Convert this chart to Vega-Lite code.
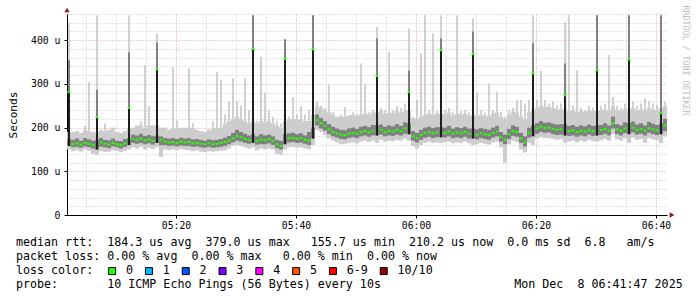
{
  "$schema": "https://vega.github.io/schema/vega-lite/v6.json",
  "width": 600,
  "height": 201,
  "autosize": {"type": "none"},
  "padding": {"left": 67, "top": 14, "right": 30, "bottom": 82},
  "background": "#ffffff",
  "config": {"view": {"stroke": null}, "font": "DejaVu Sans Mono"},
  "title": {
    "text": [
      "median\u00a0rtt:\u00a0\u00a0184.3\u00a0us\u00a0avg\u00a0\u00a0379.0\u00a0us\u00a0max\u00a0\u00a0\u00a0155.7\u00a0us\u00a0min\u00a0\u00a0210.2\u00a0us\u00a0now\u00a0\u00a00.0\u00a0ms\u00a0sd\u00a0\u00a06.8\u00a0\u00a0\u00a0am/s",
      "packet\u00a0loss:\u00a00.00\u00a0%\u00a0avg\u00a0\u00a00.00\u00a0%\u00a0max\u00a0\u00a0\u00a00.00\u00a0%\u00a0min\u00a0\u00a00.00\u00a0%\u00a0now",
      "loss\u00a0color:",
      "probe:\u00a0\u00a0\u00a0\u00a0\u00a0\u00a0\u00a010\u00a0ICMP\u00a0Echo\u00a0Pings\u00a0(56\u00a0Bytes)\u00a0every\u00a010s\u00a0\u00a0\u00a0\u00a0\u00a0\u00a0\u00a0\u00a0\u00a0\u00a0\u00a0\u00a0\u00a0\u00a0\u00a0\u00a0\u00a0\u00a0\u00a0Mon\u00a0Dec\u00a0\u00a08\u00a006:41:47\u00a02025"
    ],
    "orient": "bottom",
    "anchor": "start",
    "frame": "group",
    "dx": -51,
    "dy": -46,
    "offset": 6,
    "font": "DejaVu Sans Mono",
    "fontSize": 11.66,
    "fontWeight": "normal",
    "color": "#000000",
    "lineHeight": 13.9,
    "baseline": "top"
  },
  "data": {
    "format": {"parse": {"t": "utc:'%H:%M:%S'"}},
    "values": [
      {"t":"05:02:10","lo":150,"hi":190,"pk":440,"dlo":158,"dhi":175,"med":281,"dpk":354},
      {"t":"05:02:50","lo":146,"hi":190,"pk":190,"dlo":155,"dhi":172,"med":162},
      {"t":"05:03:30","lo":148,"hi":192,"pk":192,"dlo":156,"dhi":175,"med":164},
      {"t":"05:04:10","lo":145,"hi":188,"pk":188,"dlo":154,"dhi":170,"med":161},
      {"t":"05:04:50","lo":150,"hi":195,"pk":205,"dlo":157,"dhi":176,"med":165},
      {"t":"05:05:30","lo":147,"hi":192,"pk":304,"dlo":155,"dhi":173,"med":163},
      {"t":"05:06:10","lo":140,"hi":190,"pk":190,"dlo":152,"dhi":170,"med":160},
      {"t":"05:06:50","lo":138,"hi":190,"pk":457,"dlo":150,"dhi":172,"med":224,"dpk":286},
      {"t":"05:07:30","lo":146,"hi":195,"pk":195,"dlo":156,"dhi":176,"med":166},
      {"t":"05:08:10","lo":144,"hi":192,"pk":210,"dlo":155,"dhi":172,"med":163},
      {"t":"05:08:50","lo":145,"hi":195,"pk":195,"dlo":153,"dhi":171,"med":161},
      {"t":"05:09:30","lo":148,"hi":200,"pk":200,"dlo":157,"dhi":175,"med":165},
      {"t":"05:10:10","lo":146,"hi":190,"pk":190,"dlo":155,"dhi":170,"med":162},
      {"t":"05:10:50","lo":144,"hi":188,"pk":188,"dlo":152,"dhi":169,"med":160},
      {"t":"05:11:30","lo":147,"hi":192,"pk":192,"dlo":156,"dhi":174,"med":164},
      {"t":"05:12:10","lo":150,"hi":198,"pk":457,"dlo":160,"dhi":176,"med":245,"dpk":372},
      {"t":"05:12:50","lo":155,"hi":200,"pk":200,"dlo":165,"dhi":184,"med":174},
      {"t":"05:13:30","lo":152,"hi":205,"pk":205,"dlo":163,"dhi":182,"med":172},
      {"t":"05:14:10","lo":156,"hi":205,"pk":215,"dlo":165,"dhi":186,"med":175},
      {"t":"05:14:50","lo":150,"hi":200,"pk":343,"dlo":162,"dhi":181,"med":171},
      {"t":"05:15:30","lo":154,"hi":205,"pk":250,"dlo":164,"dhi":183,"med":173},
      {"t":"05:16:10","lo":151,"hi":205,"pk":205,"dlo":161,"dhi":180,"med":170},
      {"t":"05:16:50","lo":155,"hi":205,"pk":416,"dlo":165,"dhi":182,"med":333,"dpk":395},
      {"t":"05:17:30","lo":133,"hi":200,"pk":200,"dlo":160,"dhi":180,"med":172},
      {"t":"05:18:10","lo":150,"hi":200,"pk":200,"dlo":160,"dhi":176,"med":168},
      {"t":"05:18:50","lo":148,"hi":195,"pk":195,"dlo":158,"dhi":175,"med":166},
      {"t":"05:19:30","lo":150,"hi":198,"pk":338,"dlo":159,"dhi":176,"med":167},
      {"t":"05:20:10","lo":148,"hi":200,"pk":215,"dlo":157,"dhi":174,"med":165},
      {"t":"05:20:50","lo":151,"hi":198,"pk":198,"dlo":159,"dhi":177,"med":168},
      {"t":"05:21:30","lo":149,"hi":200,"pk":200,"dlo":158,"dhi":175,"med":166},
      {"t":"05:22:10","lo":148,"hi":198,"pk":336,"dlo":158,"dhi":176,"med":167},
      {"t":"05:22:50","lo":146,"hi":200,"pk":210,"dlo":156,"dhi":173,"med":164},
      {"t":"05:23:30","lo":148,"hi":195,"pk":195,"dlo":157,"dhi":174,"med":165},
      {"t":"05:24:10","lo":145,"hi":192,"pk":192,"dlo":155,"dhi":172,"med":163},
      {"t":"05:24:50","lo":144,"hi":190,"pk":190,"dlo":154,"dhi":170,"med":162},
      {"t":"05:25:30","lo":146,"hi":195,"pk":195,"dlo":156,"dhi":173,"med":164},
      {"t":"05:26:10","lo":145,"hi":200,"pk":215,"dlo":154,"dhi":171,"med":162},
      {"t":"05:26:50","lo":146,"hi":198,"pk":328,"dlo":155,"dhi":172,"med":163},
      {"t":"05:27:30","lo":147,"hi":200,"pk":309,"dlo":156,"dhi":174,"med":165},
      {"t":"05:28:10","lo":148,"hi":210,"pk":230,"dlo":158,"dhi":177,"med":167},
      {"t":"05:28:50","lo":152,"hi":215,"pk":260,"dlo":162,"dhi":181,"med":170},
      {"t":"05:29:30","lo":158,"hi":220,"pk":313,"dlo":166,"dhi":188,"med":176},
      {"t":"05:30:10","lo":160,"hi":225,"pk":260,"dlo":170,"dhi":195,"med":181},
      {"t":"05:30:50","lo":158,"hi":220,"pk":250,"dlo":168,"dhi":190,"med":178},
      {"t":"05:31:30","lo":155,"hi":215,"pk":313,"dlo":165,"dhi":186,"med":174},
      {"t":"05:32:10","lo":152,"hi":210,"pk":240,"dlo":163,"dhi":182,"med":172},
      {"t":"05:32:50","lo":155,"hi":215,"pk":457,"dlo":165,"dhi":185,"med":380,"dpk":457},
      {"t":"05:33:30","lo":148,"hi":210,"pk":215,"dlo":161,"dhi":180,"med":170},
      {"t":"05:34:10","lo":152,"hi":215,"pk":362,"dlo":162,"dhi":185,"med":173},
      {"t":"05:34:50","lo":150,"hi":212,"pk":280,"dlo":162,"dhi":182,"med":171},
      {"t":"05:35:30","lo":152,"hi":215,"pk":240,"dlo":164,"dhi":184,"med":174},
      {"t":"05:36:10","lo":150,"hi":210,"pk":225,"dlo":160,"dhi":180,"med":170},
      {"t":"05:36:50","lo":140,"hi":205,"pk":215,"dlo":153,"dhi":172,"med":162},
      {"t":"05:37:30","lo":138,"hi":200,"pk":210,"dlo":150,"dhi":170,"med":158},
      {"t":"05:38:10","lo":150,"hi":215,"pk":402,"dlo":162,"dhi":185,"med":357,"dpk":402},
      {"t":"05:38:50","lo":155,"hi":220,"pk":225,"dlo":166,"dhi":187,"med":176},
      {"t":"05:39:30","lo":156,"hi":220,"pk":270,"dlo":167,"dhi":188,"med":177},
      {"t":"05:40:10","lo":154,"hi":218,"pk":230,"dlo":165,"dhi":185,"med":174},
      {"t":"05:40:50","lo":155,"hi":220,"pk":250,"dlo":166,"dhi":187,"med":176},
      {"t":"05:41:30","lo":152,"hi":215,"pk":230,"dlo":163,"dhi":182,"med":172},
      {"t":"05:42:10","lo":150,"hi":215,"pk":240,"dlo":160,"dhi":190,"med":170},
      {"t":"05:42:50","lo":160,"hi":230,"pk":457,"dlo":175,"dhi":200,"med":379,"dpk":457},
      {"t":"05:43:30","lo":195,"hi":250,"pk":260,"dlo":205,"dhi":230,"med":217},
      {"t":"05:44:10","lo":190,"hi":245,"pk":250,"dlo":198,"dhi":222,"med":210},
      {"t":"05:44:50","lo":183,"hi":240,"pk":245,"dlo":193,"dhi":215,"med":204},
      {"t":"05:45:30","lo":175,"hi":235,"pk":297,"dlo":185,"dhi":208,"med":196},
      {"t":"05:46:10","lo":170,"hi":230,"pk":235,"dlo":180,"dhi":202,"med":190},
      {"t":"05:46:50","lo":166,"hi":225,"pk":225,"dlo":177,"dhi":198,"med":187},
      {"t":"05:47:30","lo":162,"hi":225,"pk":230,"dlo":174,"dhi":195,"med":184},
      {"t":"05:48:10","lo":163,"hi":225,"pk":247,"dlo":173,"dhi":194,"med":183},
      {"t":"05:48:50","lo":165,"hi":228,"pk":228,"dlo":176,"dhi":198,"med":186},
      {"t":"05:49:30","lo":166,"hi":230,"pk":235,"dlo":178,"dhi":200,"med":188},
      {"t":"05:50:10","lo":164,"hi":228,"pk":232,"dlo":176,"dhi":197,"med":186},
      {"t":"05:50:50","lo":168,"hi":230,"pk":347,"dlo":180,"dhi":202,"med":190},
      {"t":"05:51:30","lo":170,"hi":232,"pk":300,"dlo":182,"dhi":204,"med":192},
      {"t":"05:52:10","lo":167,"hi":230,"pk":235,"dlo":179,"dhi":201,"med":189},
      {"t":"05:52:50","lo":170,"hi":235,"pk":240,"dlo":182,"dhi":206,"med":193},
      {"t":"05:53:30","lo":165,"hi":235,"pk":430,"dlo":182,"dhi":206,"med":318,"dpk":404},
      {"t":"05:54:10","lo":172,"hi":238,"pk":245,"dlo":184,"dhi":207,"med":195},
      {"t":"05:54:50","lo":168,"hi":232,"pk":240,"dlo":180,"dhi":202,"med":190},
      {"t":"05:55:30","lo":170,"hi":235,"pk":373,"dlo":182,"dhi":205,"med":193},
      {"t":"05:56:10","lo":169,"hi":233,"pk":240,"dlo":181,"dhi":203,"med":191},
      {"t":"05:56:50","lo":172,"hi":238,"pk":250,"dlo":184,"dhi":208,"med":195},
      {"t":"05:57:30","lo":170,"hi":235,"pk":245,"dlo":182,"dhi":204,"med":192},
      {"t":"05:58:10","lo":175,"hi":240,"pk":255,"dlo":186,"dhi":212,"med":198},
      {"t":"05:58:50","lo":170,"hi":238,"pk":427,"dlo":185,"dhi":210,"med":281,"dpk":330},
      {"t":"05:59:30","lo":158,"hi":222,"pk":225,"dlo":170,"dhi":192,"med":180},
      {"t":"06:00:10","lo":152,"hi":220,"pk":263,"dlo":166,"dhi":188,"med":176},
      {"t":"06:00:50","lo":160,"hi":225,"pk":370,"dlo":172,"dhi":195,"med":183},
      {"t":"06:01:30","lo":165,"hi":230,"pk":457,"dlo":177,"dhi":200,"med":188},
      {"t":"06:02:10","lo":168,"hi":232,"pk":240,"dlo":179,"dhi":202,"med":190},
      {"t":"06:02:50","lo":165,"hi":230,"pk":416,"dlo":176,"dhi":199,"med":187},
      {"t":"06:03:30","lo":166,"hi":232,"pk":238,"dlo":178,"dhi":201,"med":189},
      {"t":"06:04:10","lo":165,"hi":232,"pk":457,"dlo":178,"dhi":201,"med":377,"dpk":404},
      {"t":"06:04:50","lo":166,"hi":230,"pk":240,"dlo":177,"dhi":200,"med":188},
      {"t":"06:05:30","lo":168,"hi":235,"pk":245,"dlo":180,"dhi":204,"med":191},
      {"t":"06:06:10","lo":164,"hi":228,"pk":235,"dlo":176,"dhi":198,"med":186},
      {"t":"06:06:50","lo":166,"hi":232,"pk":457,"dlo":178,"dhi":201,"med":189},
      {"t":"06:07:30","lo":165,"hi":230,"pk":238,"dlo":176,"dhi":199,"med":187},
      {"t":"06:08:10","lo":168,"hi":232,"pk":240,"dlo":179,"dhi":202,"med":190},
      {"t":"06:08:50","lo":164,"hi":228,"pk":235,"dlo":175,"dhi":198,"med":186},
      {"t":"06:09:30","lo":160,"hi":228,"pk":450,"dlo":175,"dhi":198,"med":368,"dpk":420},
      {"t":"06:10:10","lo":162,"hi":228,"pk":279,"dlo":173,"dhi":196,"med":184},
      {"t":"06:10:50","lo":165,"hi":230,"pk":240,"dlo":176,"dhi":199,"med":187},
      {"t":"06:11:30","lo":163,"hi":228,"pk":235,"dlo":174,"dhi":197,"med":185},
      {"t":"06:12:10","lo":161,"hi":226,"pk":301,"dlo":172,"dhi":195,"med":183},
      {"t":"06:12:50","lo":166,"hi":232,"pk":240,"dlo":177,"dhi":200,"med":188},
      {"t":"06:13:30","lo":168,"hi":235,"pk":282,"dlo":180,"dhi":204,"med":191},
      {"t":"06:14:10","lo":155,"hi":225,"pk":235,"dlo":168,"dhi":190,"med":178},
      {"t":"06:14:50","lo":120,"hi":220,"pk":225,"dlo":162,"dhi":184,"med":172},
      {"t":"06:15:30","lo":162,"hi":230,"pk":240,"dlo":174,"dhi":197,"med":185},
      {"t":"06:16:10","lo":170,"hi":236,"pk":245,"dlo":181,"dhi":205,"med":192},
      {"t":"06:16:50","lo":167,"hi":235,"pk":263,"dlo":179,"dhi":202,"med":190},
      {"t":"06:17:30","lo":150,"hi":225,"pk":263,"dlo":165,"dhi":188,"med":175},
      {"t":"06:18:10","lo":143,"hi":220,"pk":255,"dlo":157,"dhi":180,"med":166},
      {"t":"06:18:50","lo":165,"hi":235,"pk":263,"dlo":177,"dhi":200,"med":188},
      {"t":"06:19:30","lo":160,"hi":240,"pk":457,"dlo":180,"dhi":205,"med":324,"dpk":393},
      {"t":"06:20:10","lo":175,"hi":245,"pk":263,"dlo":186,"dhi":210,"med":198},
      {"t":"06:20:50","lo":178,"hi":250,"pk":330,"dlo":190,"dhi":215,"med":202},
      {"t":"06:21:30","lo":176,"hi":248,"pk":263,"dlo":188,"dhi":211,"med":199},
      {"t":"06:22:10","lo":176,"hi":248,"pk":255,"dlo":189,"dhi":212,"med":200},
      {"t":"06:22:50","lo":174,"hi":245,"pk":260,"dlo":185,"dhi":209,"med":197},
      {"t":"06:23:30","lo":172,"hi":242,"pk":250,"dlo":183,"dhi":207,"med":195},
      {"t":"06:24:10","lo":173,"hi":242,"pk":255,"dlo":184,"dhi":208,"med":196},
      {"t":"06:24:50","lo":165,"hi":242,"pk":441,"dlo":182,"dhi":208,"med":274,"dpk":347},
      {"t":"06:25:30","lo":168,"hi":238,"pk":457,"dlo":181,"dhi":204,"med":192},
      {"t":"06:26:10","lo":170,"hi":240,"pk":250,"dlo":182,"dhi":206,"med":194},
      {"t":"06:26:50","lo":166,"hi":236,"pk":331,"dlo":179,"dhi":202,"med":190},
      {"t":"06:27:30","lo":170,"hi":238,"pk":245,"dlo":182,"dhi":205,"med":193},
      {"t":"06:28:10","lo":168,"hi":236,"pk":240,"dlo":180,"dhi":203,"med":191},
      {"t":"06:28:50","lo":172,"hi":240,"pk":250,"dlo":184,"dhi":207,"med":195},
      {"t":"06:29:30","lo":169,"hi":238,"pk":245,"dlo":181,"dhi":204,"med":192},
      {"t":"06:30:10","lo":168,"hi":238,"pk":457,"dlo":182,"dhi":205,"med":331,"dpk":457},
      {"t":"06:30:50","lo":171,"hi":240,"pk":250,"dlo":183,"dhi":206,"med":194},
      {"t":"06:31:30","lo":174,"hi":242,"pk":255,"dlo":186,"dhi":210,"med":197},
      {"t":"06:32:10","lo":170,"hi":238,"pk":366,"dlo":182,"dhi":205,"med":193},
      {"t":"06:32:50","lo":185,"hi":250,"pk":270,"dlo":198,"dhi":225,"med":210},
      {"t":"06:33:30","lo":173,"hi":240,"pk":250,"dlo":185,"dhi":208,"med":196},
      {"t":"06:34:10","lo":170,"hi":238,"pk":245,"dlo":182,"dhi":205,"med":193},
      {"t":"06:34:50","lo":175,"hi":242,"pk":255,"dlo":187,"dhi":212,"med":198},
      {"t":"06:35:30","lo":165,"hi":242,"pk":457,"dlo":185,"dhi":210,"med":356,"dpk":457},
      {"t":"06:36:10","lo":177,"hi":245,"pk":260,"dlo":189,"dhi":214,"med":200},
      {"t":"06:36:50","lo":172,"hi":240,"pk":250,"dlo":184,"dhi":207,"med":195},
      {"t":"06:37:30","lo":174,"hi":242,"pk":255,"dlo":186,"dhi":210,"med":197},
      {"t":"06:38:10","lo":165,"hi":238,"pk":267,"dlo":182,"dhi":205,"med":193},
      {"t":"06:38:50","lo":176,"hi":245,"pk":260,"dlo":188,"dhi":213,"med":199},
      {"t":"06:39:30","lo":173,"hi":242,"pk":255,"dlo":185,"dhi":209,"med":196},
      {"t":"06:40:10","lo":171,"hi":240,"pk":250,"dlo":183,"dhi":206,"med":194},
      {"t":"06:40:50","lo":165,"hi":245,"pk":457,"dlo":185,"dhi":210,"med":233,"dpk":457},
      {"t":"06:41:30","lo":180,"hi":250,"pk":260,"dlo":192,"dhi":220,"med":205}
    ]
  },
  "layer": [
    {
      "mark": {"type": "rule", "strokeWidth": 4, "color": "#cdcdcd"},
      "encoding": {
        "x": {
          "field": "t", "type": "temporal",
          "scale": {"type": "utc", "domain": [
            {"year": 1900, "month": 1, "date": 1, "hours": 5, "minutes": 1, "seconds": 50, "utc": true},
            {"year": 1900, "month": 1, "date": 1, "hours": 6, "minutes": 41, "seconds": 50, "utc": true}
          ]},
          "axis": {
            "orient": "bottom", "title": null, "labels": false, "ticks": false, "domain": false,
            "grid": true, "gridColor": "#c8c8c8", "gridDash": [1, 2], "gridOpacity": 1,
            "values": [
              {"year": 1900, "month": 1, "date": 1, "hours": 5, "minutes": 5, "utc": true},
              {"year": 1900, "month": 1, "date": 1, "hours": 5, "minutes": 10, "utc": true},
              {"year": 1900, "month": 1, "date": 1, "hours": 5, "minutes": 15, "utc": true},
              {"year": 1900, "month": 1, "date": 1, "hours": 5, "minutes": 25, "utc": true},
              {"year": 1900, "month": 1, "date": 1, "hours": 5, "minutes": 30, "utc": true},
              {"year": 1900, "month": 1, "date": 1, "hours": 5, "minutes": 35, "utc": true},
              {"year": 1900, "month": 1, "date": 1, "hours": 5, "minutes": 45, "utc": true},
              {"year": 1900, "month": 1, "date": 1, "hours": 5, "minutes": 50, "utc": true},
              {"year": 1900, "month": 1, "date": 1, "hours": 5, "minutes": 55, "utc": true},
              {"year": 1900, "month": 1, "date": 1, "hours": 6, "minutes": 5, "utc": true},
              {"year": 1900, "month": 1, "date": 1, "hours": 6, "minutes": 10, "utc": true},
              {"year": 1900, "month": 1, "date": 1, "hours": 6, "minutes": 15, "utc": true},
              {"year": 1900, "month": 1, "date": 1, "hours": 6, "minutes": 25, "utc": true},
              {"year": 1900, "month": 1, "date": 1, "hours": 6, "minutes": 30, "utc": true},
              {"year": 1900, "month": 1, "date": 1, "hours": 6, "minutes": 35, "utc": true}
            ]
          }
        },
        "y": {
          "field": "lo", "type": "quantitative",
          "scale": {"domain": [0, 460], "nice": false},
          "axis": {
            "orient": "left", "title": null, "labels": false, "ticks": false, "domain": false,
            "grid": true, "gridColor": "#c8c8c8", "gridDash": [1, 2], "gridOpacity": 1,
            "values": [20, 40, 60, 80, 120, 140, 160, 180, 220, 240, 260, 280, 320, 340, 360, 380, 420, 440, 460]
          }
        },
        "y2": {"field": "hi"}
      }
    },
    {
      "transform": [{"filter": "datum.pk > datum.hi"}],
      "mark": {"type": "rule", "strokeWidth": 1.5, "color": "#c2c2c2"},
      "encoding": {
        "x": {"field": "t", "type": "temporal", "axis": null},
        "y": {"field": "hi", "type": "quantitative", "axis": null},
        "y2": {"field": "pk"}
      }
    },
    {
      "mark": {"type": "rule", "strokeWidth": 4, "color": "#808080"},
      "encoding": {
        "x": {"field": "t", "type": "temporal", "axis": null},
        "y": {
          "field": "dlo", "type": "quantitative",
          "axis": {
            "orient": "right", "title": "RRDTOOL / TOBI OETIKER", "labels": false, "ticks": false,
            "domain": false, "grid": false, "titleFont": "DejaVu Sans Mono", "titleFontSize": 8.3,
            "titleFontWeight": "normal", "titleColor": "#c0c0c0", "titleAngle": 90,
            "titleAlign": "left", "titleBaseline": "middle", "titleY": -9, "titlePadding": 17
          }
        },
        "y2": {"field": "dhi"}
      }
    },
    {
      "transform": [{"filter": "isValid(datum.dpk)"}],
      "mark": {"type": "rule", "strokeWidth": 1.5, "color": "#666666"},
      "encoding": {
        "x": {"field": "t", "type": "temporal", "axis": null},
        "y": {"field": "med", "type": "quantitative", "axis": null},
        "y2": {"field": "dpk"}
      }
    },
    {
      "transform": [{"filter": "datum.med - datum.dlo > 40"}],
      "mark": {"type": "rule", "strokeWidth": 2, "color": "#1e1e1e"},
      "encoding": {
        "x": {"field": "t", "type": "temporal", "axis": null},
        "y": {"field": "dlo", "type": "quantitative", "axis": null},
        "y2": {"field": "med"}
      }
    },
    {
      "mark": {"type": "tick", "orient": "horizontal", "size": 3, "thickness": 2, "opacity": 1},
      "encoding": {
        "x": {
          "field": "t", "type": "temporal",
          "axis": {
            "orient": "bottom", "title": null, "format": "%H:%M",
            "values": [
              {"year": 1900, "month": 1, "date": 1, "hours": 5, "minutes": 20, "utc": true},
              {"year": 1900, "month": 1, "date": 1, "hours": 5, "minutes": 40, "utc": true},
              {"year": 1900, "month": 1, "date": 1, "hours": 6, "minutes": 0, "utc": true},
              {"year": 1900, "month": 1, "date": 1, "hours": 6, "minutes": 20, "utc": true},
              {"year": 1900, "month": 1, "date": 1, "hours": 6, "minutes": 40, "utc": true}
            ],
            "grid": true, "gridColor": "#e0a0a0", "gridDash": [1, 2], "gridOpacity": 1,
            "domain": true, "domainColor": "#000000", "domainWidth": 1,
            "ticks": true, "tickColor": "#000000", "tickSize": 3,
            "labelFont": "DejaVu Sans Mono", "labelFontSize": 9.8, "labelColor": "#000000",
            "labelPadding": 2, "labelFlush": false, "labelOverlap": false
          }
        },
        "y": {
          "field": "med", "type": "quantitative",
          "axis": {
            "orient": "left", "title": "Seconds", "values": [0, 100, 200, 300, 400],
            "labelExpr": "datum.value == 0 ? '0' : datum.value + ' u'",
            "grid": true, "gridColor": "#e0a0a0", "gridDash": [1, 2], "gridOpacity": 1,
            "domain": true, "domainColor": "#000000", "domainWidth": 1,
            "ticks": true, "tickColor": "#000000", "tickSize": 3,
            "labelFont": "DejaVu Sans Mono", "labelFontSize": 9.8, "labelColor": "#000000",
            "labelPadding": 4, "labelFlush": false, "labelOverlap": false,
            "titleFont": "DejaVu Sans Mono", "titleFontSize": 11.2, "titleFontWeight": "normal",
            "titleColor": "#000000", "titlePadding": 12
          }
        },
        "color": {
          "datum": "0", "type": "nominal",
          "scale": {
            "domain": ["0", "1", "2", "3", "4", "5", "6-9", "10/10"],
            "range": ["#26ff00", "#00b8ff", "#0059ff", "#7e00ff", "#ff00ff", "#ff5500", "#ff0000", "#a10000"]
          },
          "legend": {
            "orient": "none", "legendX": 39.3, "legendY": 251, "direction": "horizontal", "columns": 8,
            "title": null, "symbolType": "square", "symbolSize": 49, "symbolStrokeColor": "#000000",
            "symbolStrokeWidth": 1, "symbolOpacity": 1, "labelFont": "DejaVu Sans Mono",
            "labelFontSize": 11.66, "labelColor": "#000000", "labelOffset": 8, "columnPadding": 9.8,
            "padding": 0
          }
        }
      }
    },
    {
      "data": {
        "format": {"parse": {"t": "utc:'%H:%M:%S'"}},
        "values": [
          {"t": "06:42:40", "v": 0, "dir": "x"},
          {"t": "05:01:50", "v": 469, "dir": "y"}
        ]
      },
      "mark": {"type": "point", "filled": true, "size": 28, "opacity": 1, "color": "#8b1a1a"},
      "encoding": {
        "x": {"field": "t", "type": "temporal", "axis": null},
        "y": {"field": "v", "type": "quantitative", "axis": null},
        "shape": {
          "field": "dir", "type": "nominal",
          "scale": {"domain": ["x", "y"], "range": ["triangle-right", "triangle-up"]},
          "legend": null
        }
      }
    }
  ],
  "resolve": {"axis": {"x": "independent", "y": "independent"}}
}
